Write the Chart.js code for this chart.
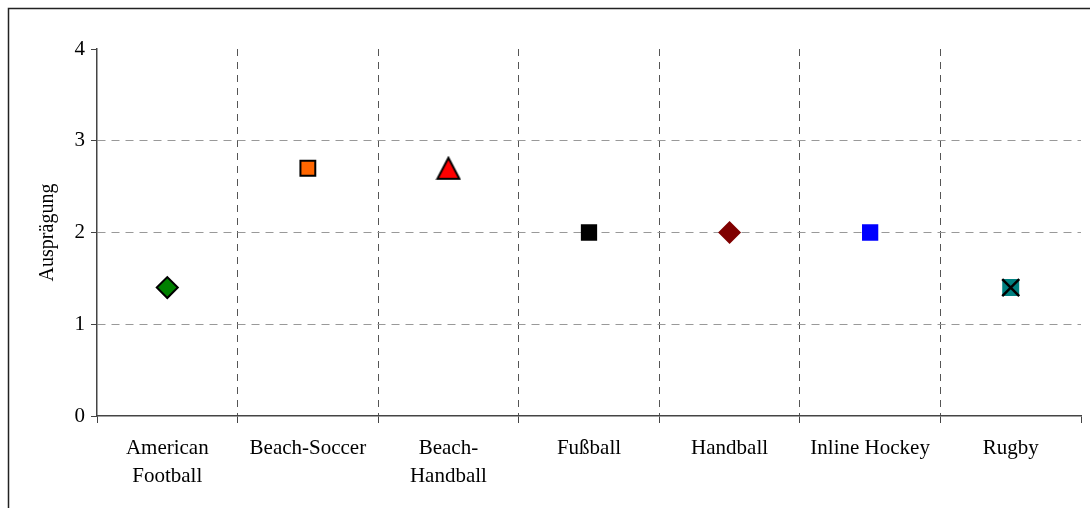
<!DOCTYPE html>
<html>
<head>
<meta charset="utf-8">
<title>Ausprägung nach Sportart</title>
<script src="https://cdn.jsdelivr.net/npm/chart.js@4.4.1/dist/chart.umd.min.js"></script>
<style>
  html, body { margin: 0; padding: 0; background: #ffffff; }
  #wrap { position: relative; width: 1090px; height: 508px; }
</style>
</head>
<body>
<div id="wrap"><canvas id="chart" width="1090" height="508"></canvas></div>
<script>
// Sportarten (x-Achse) und Ausprägung je Sportart
const categories = [['American', 'Football'], 'Beach-Soccer', ['Beach-', 'Handball'], 'Fußball', 'Handball', 'Inline Hockey', 'Rugby'];
const values = [1.4, 2.7, 2.7, 2.0, 2.0, 2.0, 1.4];
const yTicks = [0, 1, 2, 3, 4];
const yTitle = 'Ausprägung';

// Dreieck mit Mittelpunkt in der Mitte des Umrisses
function triangleMarker(fill, edge) {
  const c = document.createElement('canvas');
  c.width = 26;
  c.height = 25;
  const g = c.getContext('2d');
  g.beginPath();
  g.moveTo(13, 2);
  g.lineTo(2, 23);
  g.lineTo(24, 23);
  g.closePath();
  g.fillStyle = fill;
  g.fill();
  g.lineWidth = 2;
  g.lineJoin = 'miter';
  g.strokeStyle = edge;
  g.stroke();
  return c;
}

// Marker-Gestaltung je Sportart
const markerShapes = ['rectRot', 'rect', triangleMarker('#FF0000', '#000000'), 'rect', 'rectRot', 'rect', 'rect'];
const markerFills = ['#008000', '#FF6600', '#FF0000', '#000000', '#800000', '#0000FF', '#008080'];
const markerEdges = ['#000000', '#000000', '#000000', '#000000', '#800000', '#0000FF', '#008080'];
const markerEdgeWidths = [2, 2, 2, 0, 0, 0, 0];
const markerRadii = [10.5, 10.5, 13, 11.5, 11.5, 11.5, 12];
// Kreuz über dem Rugby-Marker
const crossIndex = 6;

const FONT = "'Liberation Serif', 'Times New Roman', serif";

const frame = {
  id: 'frame',
  beforeDraw(chart) {
    const ctx = chart.ctx;
    ctx.save();
    ctx.strokeStyle = '#222222';
    ctx.lineWidth = 1.5;
    ctx.beginPath();
    ctx.moveTo(8.5, chart.height);
    ctx.lineTo(8.5, 8.5);
    ctx.lineTo(chart.width, 8.5);
    ctx.stroke();
    ctx.restore();
  }
};

new Chart(document.getElementById('chart'), {
  type: 'line',
  data: {
    labels: categories,
    datasets: [
      {
        data: values,
        showLine: false,
        pointStyle: markerShapes,
        backgroundColor: markerFills,
        borderColor: markerEdges,
        borderWidth: markerEdgeWidths,
        pointRadius: markerRadii,
        pointHoverRadius: markerRadii,
        order: 2
      },
      {
        data: values.map((v, i) => (i === crossIndex ? v : null)),
        showLine: false,
        pointStyle: 'crossRot',
        borderColor: '#000000',
        borderWidth: 2.5,
        pointRadius: 12,
        order: 1
      }
    ]
  },
  options: {
    responsive: false,
    animation: false,
    events: [],
    layout: { autoPadding: false, padding: { left: 0, top: 49, right: 9, bottom: 0 } },
    plugins: { legend: { display: false }, tooltip: { enabled: false } },
    scales: {
      x: {
        offset: true,
        afterFit(scale) {
          scale.height = 92;
          scale.paddingLeft = 0;
          scale.paddingRight = 0;
        },
        grid: {
          offset: true,
          color: (c) => (c.index === undefined || c.index === 0 || c.index >= categories.length ? 'rgba(0,0,0,0)' : '#555555'),
          lineWidth: 1,
          drawTicks: true,
          tickLength: 7,
          tickColor: '#444444',
          tickBorderDash: []
        },
        border: { display: true, color: '#444444', width: 1.5, dash: [7, 6] },
        ticks: {
          color: '#000000',
          font: { family: FONT, size: 21, lineHeight: 1.35 },
          padding: 11,
          maxRotation: 0,
          autoSkip: false
        }
      },
      y: {
        min: 0,
        max: 4,
        afterFit(scale) { scale.width = 97; },
        afterBuildTicks(scale) { scale.ticks = yTicks.map((v) => ({ value: v })); },
        grid: {
          color: (c) => (c.tick && (c.tick.value === 0 || c.tick.value === 4) ? 'rgba(0,0,0,0)' : '#999999'),
          lineWidth: 1,
          drawTicks: true,
          tickLength: 6,
          tickColor: '#444444',
          tickBorderDash: []
        },
        border: { display: true, color: '#444444', width: 1.5, dash: [8, 6] },
        ticks: {
          color: '#000000',
          font: { family: FONT, size: 21 },
          padding: 6
        },
        title: {
          display: true,
          text: yTitle,
          color: '#000000',
          font: { family: FONT, size: 20 },
          padding: { top: 36, bottom: 0 }
        }
      }
    }
  },
  plugins: [frame]
});
</script>
</body>
</html>
